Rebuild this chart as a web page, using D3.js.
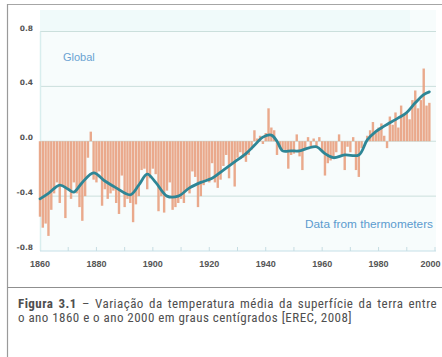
<!DOCTYPE html>
<html>
<head>
<meta charset="utf-8">
<script src="https://cdn.jsdelivr.net/npm/d3@7"></script>
<style>
  html, body { margin: 0; padding: 0; background: #fff; }
  body { position: relative; width: 442px; height: 357px; overflow: hidden; }
  svg { display: block; }
  .caption {
    position: absolute; left: 18px; top: 296.6px; width: 419px;
    font-family: 'Liberation Sans Narrow', 'Roboto Condensed', 'Liberation Sans', sans-serif;
    font-size: 13px; line-height: 14.7px; letter-spacing: 0.45px; color: #4f4f4f;
  }
  .caption .line { height: 14.7px; white-space: nowrap; }
  .caption b { font-weight: bold; }
</style>
</head>
<body>
<svg id="chart" width="442" height="357"></svg>
<script>
// Annual global surface temperature anomalies (°C), one value per year from firstYear
const firstYear = 1860;
const anomalies = [
  -0.55, -0.63, -0.60, -0.69, -0.50, -0.38, -0.30, -0.45, -0.32, -0.56, // 1860s
  -0.35, -0.42, -0.30, -0.38, -0.48, -0.58, -0.40, -0.12,  0.07, -0.28, // 1870s
  -0.30, -0.22, -0.47, -0.35, -0.42, -0.38, -0.36, -0.45, -0.53, -0.25, // 1880s
  -0.48, -0.42, -0.45, -0.59, -0.46, -0.40, -0.21, -0.20, -0.35, -0.27, // 1890s
  -0.20, -0.24, -0.51, -0.40, -0.52, -0.36, -0.30, -0.50, -0.48, -0.45, // 1900s
  -0.42, -0.45, -0.36, -0.38, -0.22, -0.26, -0.48, -0.40, -0.32, -0.28, // 1910s
  -0.30, -0.16, -0.30, -0.34, -0.28, -0.18, -0.10, -0.27, -0.16, -0.33, // 1920s
  -0.12, -0.08, -0.12, -0.15, -0.10, -0.06,  0.08,  0.02,  0.04, -0.02, // 1930s
   0.06,  0.24,  0.10,  0.08, -0.10, -0.04, -0.06, -0.08, -0.20, -0.10, // 1940s
  -0.09,  0.05, -0.11, -0.21, -0.06,  0.03, -0.04,  0.02, -0.05,  0.03, // 1950s
  -0.08, -0.25, -0.16, -0.14, -0.12, -0.08,  0.05, -0.10, -0.21, -0.04, // 1960s
  -0.08,  0.03, -0.21, -0.26, -0.05,  0.00,  0.04,  0.08,  0.14,  0.06, // 1970s
   0.10,  0.13,  0.04, -0.05,  0.18,  0.12,  0.21,  0.10,  0.26,  0.20, // 1980s
   0.21,  0.16,  0.30,  0.37,  0.24,  0.30,  0.53,  0.26,  0.28        // 1990s
];

// Smoothed curve through the annual values
const smoothYears = [1860, 1863, 1867, 1870, 1872, 1875, 1879, 1883, 1887, 1892,
  1895, 1898, 1901, 1905, 1909, 1913, 1917, 1921, 1925, 1929, 1933, 1936, 1939,
  1942, 1944, 1946, 1949, 1952, 1955, 1958, 1961, 1964, 1968, 1973, 1976, 1979,
  1982, 1987, 1990, 1993, 1996, 1998];
const smoothValues = [-0.42, -0.38, -0.32, -0.35, -0.37, -0.30, -0.23, -0.29, -0.34, -0.39,
  -0.32, -0.24, -0.30, -0.40, -0.40, -0.34, -0.30, -0.27, -0.21, -0.15, -0.09, -0.03, 0.03,
  0.045, 0.00, -0.07, -0.07, -0.07, -0.05, -0.04, -0.09, -0.12, -0.10, -0.10, 0.01, 0.07,
  0.11, 0.17, 0.21, 0.28, 0.34, 0.36];

const yTicks = [0.8, 0.4, 0.0, -0.4, -0.8];
const yTickLabels = ["0.8", "0.4", "0.0", "-0.4", "-0.8"];
const xTicks = [1860, 1880, 1900, 1920, 1940, 1960, 1980, 2000];
const xTickLabels = ["1860", "1880", "1900", "1920", "1940", "1960", "1980", "2000"];
const minorTicks = [1870, 1880, 1890, 1900, 1910, 1920, 1930, 1940, 1950, 1960, 1970, 1980, 1990, 2000];

const captionBold = "Figura 3.1";
const captionLine1 = " – Variação da temperatura média da superfície da terra entre";
const captionLine2 = "o ano 1860 e o ano 2000 em graus centígrados [EREC, 2008]";

const svg = d3.select("#chart");
const W = 442;

const x = d3.scaleLinear().domain([1860, 2000]).range([40, 435]);
const y = d3.scaleLinear().domain([-0.8, 0.8]).range([251, 31.5]);

// Outer frame
svg.append("line").attr("x1", 7.5).attr("x2", W).attr("y1", 4.5).attr("y2", 4.5)
  .attr("stroke", "#a6a6a6").attr("stroke-width", 1.2);
svg.append("line").attr("x1", 7.5).attr("x2", 7.5).attr("y1", 4).attr("y2", 357)
  .attr("stroke", "#9a9a9a").attr("stroke-width", 1.2);
svg.append("line").attr("x1", 7.5).attr("x2", W).attr("y1", 287.5).attr("y2", 287.5)
  .attr("stroke", "#8f8f8f").attr("stroke-width", 1.2);

// Plot background
svg.append("rect").attr("x", 40).attr("y", 10).attr("width", 396).attr("height", 241)
  .attr("fill", "#f7fcfc");
svg.append("rect").attr("x", 40).attr("y", 10).attr("width", 370).attr("height", y(0.8) - 10)
  .attr("fill", "#f0fafa");

// Gridlines
svg.append("g").selectAll("line").data(yTicks.filter(d => d > -0.8)).join("line")
  .attr("x1", 40).attr("x2", 436)
  .attr("y1", d => y(d)).attr("y2", d => y(d))
  .attr("stroke", "#cbdfdc").attr("stroke-width", 1);

// Left and bottom axis lines
svg.append("line").attr("x1", 40.5).attr("x2", 40.5).attr("y1", y(0.8)).attr("y2", y(-0.8))
  .attr("stroke", "#d8eeee").attr("stroke-width", 1.5);
svg.append("line").attr("x1", 40).attr("x2", 436).attr("y1", y(-0.8)).attr("y2", y(-0.8))
  .attr("stroke", "#c6dfe8").attr("stroke-width", 1.2);
svg.append("g").selectAll("line").data(minorTicks).join("line")
  .attr("x1", d => x(d)).attr("x2", d => x(d))
  .attr("y1", y(-0.8) - 4).attr("y2", y(-0.8))
  .attr("stroke", "#c6dce2").attr("stroke-width", 1);

// Annual bars
const bw = (x(1861) - x(1860)) * 0.85;
svg.append("g").selectAll("rect").data(anomalies).join("rect")
  .attr("x", (d, i) => x(firstYear + i) - bw / 2)
  .attr("width", bw)
  .attr("y", d => y(Math.max(0, d)))
  .attr("height", d => Math.abs(y(d) - y(0)))
  .attr("fill", "#e8a080")
  .attr("fill-opacity", 0.9);

// Smoothed line
const line = d3.line()
  .x((d, i) => x(smoothYears[i]))
  .y(d => y(d))
  .curve(d3.curveCatmullRom.alpha(0.5));
svg.append("path").datum(smoothValues)
  .attr("d", line)
  .attr("fill", "none")
  .attr("stroke", "#2e8696")
  .attr("stroke-width", 2.8)
  .attr("stroke-linejoin", "round")
  .attr("stroke-linecap", "round");

// Y tick labels
svg.append("g").selectAll("text").data(yTicks).join("text")
  .attr("x", 33).attr("y", d => y(d) - 1)
  .attr("text-anchor", "end")
  .attr("font-family", "'DejaVu Sans', sans-serif")
  .attr("font-size", 7.5).attr("font-weight", "bold")
  .attr("fill", "#555")
  .text((d, i) => yTickLabels[i]);

// X tick labels (the last one is nudged inward so it stays inside the page)
const xLabels = svg.append("g").selectAll("text").data(xTicks).join("text")
  .attr("x", d => x(d)).attr("y", 267)
  .attr("text-anchor", "middle")
  .attr("font-family", "'Liberation Sans Narrow', 'Liberation Sans', sans-serif")
  .attr("font-size", 9).attr("font-weight", "bold")
  .attr("fill", "#555")
  .text((d, i) => xTickLabels[i]);
xLabels.each(function (d) {
  const b = this.getBBox();
  const overflow = b.x + b.width - (W - 1.5);
  if (overflow > 0) d3.select(this).attr("x", x(d) - overflow);
});

// Series annotations
svg.append("text").attr("x", 63).attr("y", 61)
  .attr("font-family", "'Liberation Sans', Arial, sans-serif")
  .attr("font-size", 11).attr("fill", "#6aa3d2")
  .text("Global");
svg.append("text").attr("x", 433).attr("y", 228)
  .attr("text-anchor", "end")
  .attr("font-family", "'Liberation Sans', Arial, sans-serif")
  .attr("font-size", 11).attr("fill", "#5b9bcf")
  .attr("textLength", 128).attr("lengthAdjust", "spacingAndGlyphs")
  .text("Data from thermometers");

// Caption paragraph: first line justified to the full width, last line natural
const capWidth = 419;
const caption = d3.select("body").append("div").attr("class", "caption");
const l1 = caption.append("div").attr("class", "line");
const l1Inner = l1.append("span");
l1Inner.append("b").text(captionBold);
l1Inner.append("span").text(captionLine1);
const naturalW = l1Inner.node().getBoundingClientRect().width;
const nSpaces = (captionBold + captionLine1).split(" ").length - 1;
l1Inner.style("word-spacing", Math.max(0, (capWidth - naturalW) / nSpaces) + "px");
caption.append("div").attr("class", "line").text(captionLine2);
</script>
</body>
</html>
